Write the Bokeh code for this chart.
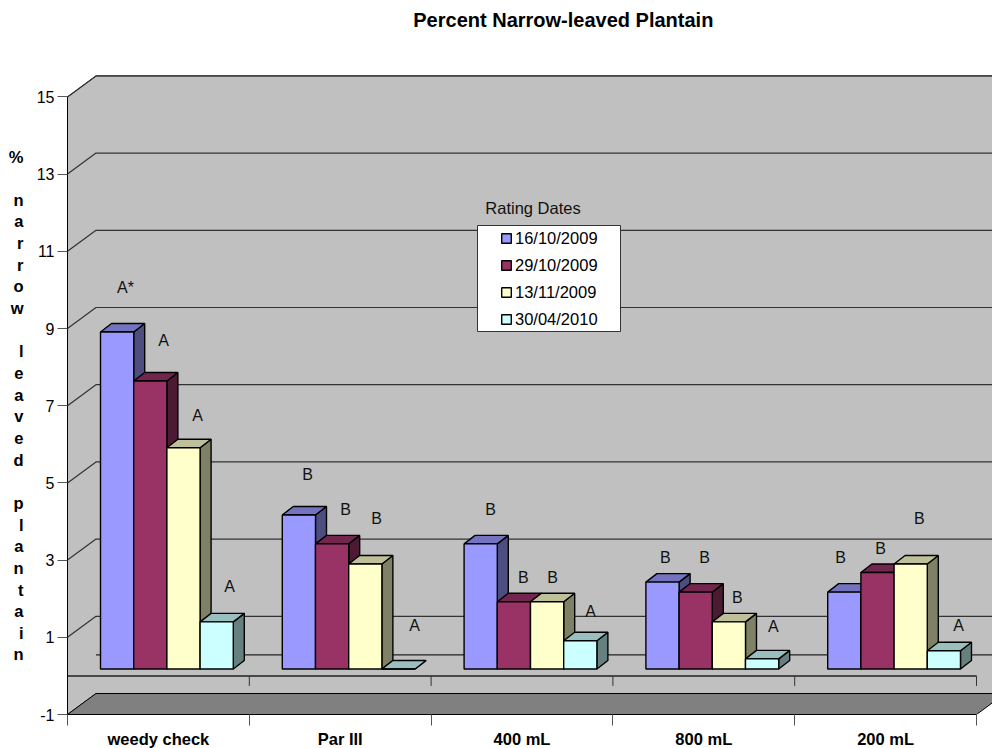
from bokeh.plotting import figure
from bokeh.models import (Range1d, FixedTicker, Label, Legend, LegendItem, BoxAnnotation,
                          LinearAxis)
from bokeh.embed import file_html
from bokeh.resources import INLINE

FONT = "Liberation Sans"

title_text = "Percent Narrow-leaved Plantain"
y_title = "% narrow leaved plantain"
legend_title = "Rating Dates"
categories = ["weedy check", "Par III", "400 mL", "800 mL", "200 mL"]
y_ticks = [-1, 1, 3, 5, 7, 9, 11, 13, 15]

series_names = ["16/10/2009", "29/10/2009", "13/11/2009", "30/04/2010"]
s_16oct = [8.73, 3.99, 3.24, 2.25, 1.99]
s_29oct = [7.46, 3.24, 1.74, 1.99, 2.50]
s_13nov = [5.73, 2.72, 1.74, 1.22, 2.72]
s_30apr = [1.22, 0.00, 0.73, 0.26, 0.47]
series_values = [s_16oct, s_29oct, s_13nov, s_30apr]

front_colors = ["#9999FF", "#993366", "#FFFFCC", "#CCFFFF"]
top_colors = ["#7373BF", "#73264D", "#BFBF99", "#99BFBF"]
side_colors = ["#4D4D80", "#4D1A33", "#808066", "#668080"]

# significance letters with the point each one sits at (category units, value units)
letters_text = [
    ["A*", "B", "B", "B", "B"],
    ["A", "B", "B", "B", "B"],
    ["A", "B", "B", "B", "B"],
    ["A", "A", "A", "A", "A"],
]
letters_x = [
    [0.319, 1.320, 2.327, 3.289, 4.252],
    [0.528, 1.529, 2.508, 3.504, 4.472],
    [0.715, 1.700, 2.668, 3.685, 4.686],
    [0.891, 1.909, 2.877, 3.883, 4.901],
]
letters_y = [
    [10.05, 5.23, 4.30, 3.08, 3.08],
    [8.68, 4.30, 2.54, 3.08, 3.29],
    [6.74, 4.09, 2.56, 2.02, 4.09],
    [2.31, 1.30, 1.68, 1.27, 1.30],
]

# 3-D projection constants, in data units
WALL_DX, WALL_DY = 0.1568, 0.544      # full depth of the chart box
BAR_DX, BAR_DY = 0.0605, 0.22         # depth of one bar
PLANE_DY = 0.18                       # bars stand this far up the floor
BAR_W = 0.1826
BAR_START = 0.1815
N = len(categories)
X_END = 925 / 181.8

p = figure(width=992, height=748, frame_width=925, frame_height=644,
           x_range=Range1d(0, X_END), y_range=Range1d(-1, 15.684),
           output_backend="svg", toolbar_location=None,
           min_border_left=67, min_border_right=0, min_border_top=70, min_border_bottom=34,
           background_fill_color="white", border_fill_color="white", outline_line_color=None,
           x_axis_type=None, y_axis_type=None)
p.grid.visible = False

X_PER_PX, Y_PER_PX = 1 / 181.8, 1 / 38.6

# walls
top, bot = y_ticks[-1], y_ticks[0]
p.patch([0, WALL_DX, N + WALL_DX, N + WALL_DX, WALL_DX, 0],
        [top, top + WALL_DY, top + WALL_DY, bot + WALL_DY, bot + WALL_DY, bot],
        fill_color="#C0C0C0", line_color="#222222", line_width=1)
# floor
p.patch([0, N, N + WALL_DX, WALL_DX], [bot, bot, bot + WALL_DY, bot + WALL_DY],
        fill_color="#808080", line_color="black", line_width=1)
# grid lines on wall
for v in y_ticks[1:]:
    p.line([0, WALL_DX, N + WALL_DX], [v, v + WALL_DY, v + WALL_DY], line_color="#333333", line_width=1.2)
# zero line at the back
p.line([WALL_DX, N + WALL_DX], [WALL_DY, WALL_DY], line_color="#222222", line_width=1.2)
# zero line in front, with its ticks
p.line([0, N], [0, 0], line_color="#222222", line_width=1.5)
p.segment(list(range(N + 1)), [0] * (N + 1), list(range(N + 1)), [-0.26] * (N + 1),
          line_color="#333333", line_width=1)

# bars
legend_renderers = []
for j, vals in enumerate(series_values):
    side_xs, side_ys, top_xs, top_ys, lefts, rights, tops = [], [], [], [], [], [], []
    for i, v in enumerate(vals):
        x0 = i + BAR_START + j * BAR_W
        x1 = x0 + BAR_W
        y1 = PLANE_DY + v
        lefts.append(x0); rights.append(x1); tops.append(y1)
        side_xs.append([x1, x1 + BAR_DX, x1 + BAR_DX, x1])
        side_ys.append([PLANE_DY, PLANE_DY + BAR_DY, y1 + BAR_DY, y1])
        top_xs.append([x0, x0 + BAR_DX, x1 + BAR_DX, x1])
        top_ys.append([y1, y1 + BAR_DY, y1 + BAR_DY, y1])
    p.patches(side_xs, side_ys, fill_color=side_colors[j], line_color="black", line_width=1.4)
    p.patches(top_xs, top_ys, fill_color=top_colors[j], line_color="black", line_width=1.4)
    r = p.quad(left=lefts, right=rights, bottom=[PLANE_DY] * N, top=tops,
               fill_color=front_colors[j], line_color="black", line_width=1.4)
    legend_renderers.append(r)

# letters
for j in range(4):
    for t, x, y in zip(letters_text[j], letters_x[j], letters_y[j]):
        p.add_layout(Label(x=x, y=y, text=t, text_font=FONT, text_font_size="16px", text_color="#111111",
                           text_align="center", text_baseline="middle"))

# axes
yaxis = LinearAxis(ticker=FixedTicker(ticks=y_ticks), bounds=(y_ticks[0], y_ticks[-1]),
                   major_tick_out=10, major_tick_in=0, minor_tick_out=0, minor_tick_in=0,
                   major_tick_line_color="#555555", axis_line_color="black",
                   major_label_standoff=3, major_label_text_font=FONT,
                   major_label_overrides={t: str(t) for t in y_ticks},
                   major_label_text_font_size="16px", major_label_text_color="black")
p.add_layout(yaxis, "left")

# stacked axis title: one upright letter per line, carried by a bare axis
stack_ticks, stack_labels = [], {}
for k, ch in enumerate(y_title):
    if ch != " ":
        pos = round((675.4 - (156 + 21.65 * k)) * Y_PER_PX, 3)
        stack_ticks.append(pos)
        stack_labels[pos] = ch
stack_axis = LinearAxis(ticker=FixedTicker(ticks=stack_ticks), axis_line_color=None,
                        major_tick_line_color=None, minor_tick_line_color=None,
                        major_tick_out=0, major_tick_in=0, minor_tick_out=0, minor_tick_in=0,
                        major_label_standoff=10, major_label_overrides=stack_labels,
                        major_label_text_align="center",
                        major_label_text_font=FONT, major_label_text_font_size="16.5px",
                        major_label_text_font_style="bold", major_label_text_color="black")
p.add_layout(stack_axis, "left")

centers = [i + 0.5 for i in range(N)]
xaxis = LinearAxis(ticker=FixedTicker(ticks=centers, minor_ticks=list(range(N + 1))),
                   bounds=(0, N),
                   major_tick_out=0, major_tick_in=0, major_tick_line_color=None,
                   minor_tick_out=11, minor_tick_in=0, minor_tick_line_color="#555555",
                   axis_line_color="black", major_label_standoff=4,
                   major_label_overrides={c: t for c, t in zip(centers, categories)},
                   major_label_text_font=FONT, major_label_text_font_size="16.5px",
                   major_label_text_font_style="bold", major_label_text_color="black")
p.add_layout(xaxis, "below")

# chart title, carried by a bare axis above; leading no-break spaces move it off-centre
title_axis = LinearAxis(ticker=FixedTicker(ticks=[]), axis_line_color=None,
                        major_tick_line_color=None, minor_tick_line_color=None,
                        major_tick_out=0, major_tick_in=0, minor_tick_out=0, minor_tick_in=0,
                        axis_label="\u00a0" * 12 + title_text, axis_label_standoff=40,
                        axis_label_text_font=FONT, axis_label_text_font_size="20px",
                        axis_label_text_font_style="bold", axis_label_text_color="black")
p.add_layout(title_axis, "above")

# legend
p.add_layout(BoxAnnotation(left=(477 - 67) * X_PER_PX, right=(620 - 67) * X_PER_PX,
                           top=(675.4 - 225) * Y_PER_PX, bottom=(675.4 - 331) * Y_PER_PX,
                           fill_color="white", fill_alpha=1, line_color="#333333", line_width=1, line_alpha=1))
p.add_layout(Label(x=(532.5 - 67) * X_PER_PX, y=(675.4 - 207) * Y_PER_PX, text=legend_title,
                   text_font=FONT, text_font_size="16.5px", text_align="center", text_baseline="middle",
                   text_color="#111111"))
legend = Legend(items=[LegendItem(label=n, renderers=[r]) for n, r in zip(series_names, legend_renderers)],
                location=(500 - 67, 714 - 329), orientation="vertical",
                background_fill_alpha=0, border_line_color=None, padding=0, margin=0,
                glyph_width=12, glyph_height=12, label_standoff=3, label_height=20, spacing=7,
                label_text_font=FONT, label_text_font_size="16.5px", label_text_color="black")
p.add_layout(legend, "center")

open("out.html", "w").write(file_html(p, INLINE))
